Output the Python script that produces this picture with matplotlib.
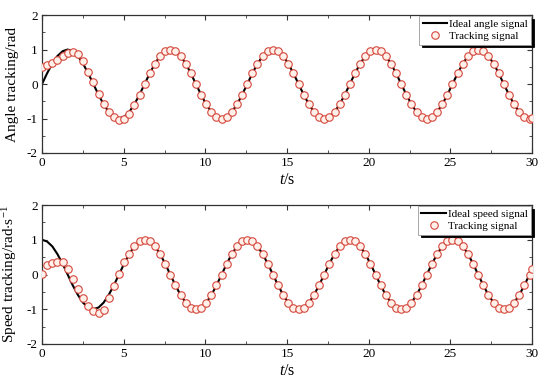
import matplotlib
matplotlib.use("Agg")
import matplotlib.pyplot as plt
from matplotlib.ticker import MultipleLocator

plt.rcParams["font.family"] = ["Liberation Serif", "DejaVu Serif"]
plt.rcParams["mathtext.fontset"] = "custom"
plt.rcParams["mathtext.it"] = "Liberation Serif:italic"
plt.rcParams["mathtext.rm"] = "Liberation Serif"
plt.rcParams["axes.unicode_minus"] = False

# sample times (s), shared by both panels
t = [0.00, 0.31, 0.63, 0.94, 1.26, 1.57, 1.88, 2.20, 2.51, 2.83,
     3.14, 3.46, 3.77, 4.08, 4.40, 4.71, 5.03, 5.34, 5.65, 5.97,
     6.28, 6.60, 6.91, 7.23, 7.54, 7.85, 8.17, 8.48, 8.80, 9.11,
     9.42, 9.74, 10.05, 10.37, 10.68, 11.00, 11.31, 11.62, 11.94, 12.25,
     12.57, 12.88, 13.19, 13.51, 13.82, 14.14, 14.45, 14.77, 15.08, 15.39,
     15.71, 16.02, 16.34, 16.65, 16.96, 17.28, 17.59, 17.91, 18.22, 18.54,
     18.85, 19.16, 19.48, 19.79, 20.11, 20.42, 20.73, 21.05, 21.36, 21.68,
     21.99, 22.31, 22.62, 22.93, 23.25, 23.56, 23.88, 24.19, 24.50, 24.82,
     25.13, 25.45, 25.76, 26.08, 26.39, 26.70, 27.02, 27.33, 27.65, 27.96,
     28.27, 28.59, 28.90, 29.22, 29.53, 29.85, 30.00]

ideal_angle = [0.00, 0.31, 0.59, 0.81, 0.95, 1.00, 0.95, 0.81, 0.59, 0.31,
               0.00, -0.31, -0.59, -0.81, -0.95, -1.00, -0.95, -0.81, -0.59, -0.31,
               0.00, 0.31, 0.59, 0.81, 0.95, 1.00, 0.95, 0.81, 0.59, 0.31,
               0.00, -0.31, -0.59, -0.81, -0.95, -1.00, -0.95, -0.81, -0.59, -0.31,
               0.00, 0.31, 0.59, 0.81, 0.95, 1.00, 0.95, 0.81, 0.59, 0.31,
               0.00, -0.31, -0.59, -0.81, -0.95, -1.00, -0.95, -0.81, -0.59, -0.31,
               0.00, 0.31, 0.59, 0.81, 0.95, 1.00, 0.95, 0.81, 0.59, 0.31,
               0.00, -0.31, -0.59, -0.81, -0.95, -1.00, -0.95, -0.81, -0.59, -0.31,
               0.00, 0.31, 0.59, 0.81, 0.95, 1.00, 0.95, 0.81, 0.59, 0.31,
               0.00, -0.31, -0.59, -0.81, -0.95, -1.00, -0.99]

track_angle = [0.50, 0.55, 0.62, 0.71, 0.81, 0.90, 0.93, 0.86, 0.66, 0.36,
               0.05, -0.28, -0.57, -0.80, -0.97, -1.04, -1.02, -0.88, -0.62, -0.31,
               0.00, 0.31, 0.59, 0.81, 0.95, 1.00, 0.95, 0.81, 0.59, 0.31,
               0.00, -0.31, -0.59, -0.81, -0.95, -1.00, -0.95, -0.81, -0.59, -0.31,
               0.00, 0.31, 0.59, 0.81, 0.95, 1.00, 0.95, 0.81, 0.59, 0.31,
               0.00, -0.31, -0.59, -0.81, -0.95, -1.00, -0.95, -0.81, -0.59, -0.31,
               0.00, 0.31, 0.59, 0.81, 0.95, 1.00, 0.95, 0.81, 0.59, 0.31,
               0.00, -0.31, -0.59, -0.81, -0.95, -1.00, -0.95, -0.81, -0.59, -0.31,
               0.00, 0.31, 0.59, 0.81, 0.95, 1.00, 0.95, 0.81, 0.59, 0.31,
               0.00, -0.31, -0.59, -0.81, -0.95, -1.00, -0.99]

ideal_speed = [1.00, 0.95, 0.81, 0.59, 0.31, 0.00, -0.31, -0.59, -0.81, -0.95,
               -1.00, -0.95, -0.81, -0.59, -0.31, 0.00, 0.31, 0.59, 0.81, 0.95,
               1.00, 0.95, 0.81, 0.59, 0.31, 0.00, -0.31, -0.59, -0.81, -0.95,
               -1.00, -0.95, -0.81, -0.59, -0.31, 0.00, 0.31, 0.59, 0.81, 0.95,
               1.00, 0.95, 0.81, 0.59, 0.31, 0.00, -0.31, -0.59, -0.81, -0.95,
               -1.00, -0.95, -0.81, -0.59, -0.31, 0.00, 0.31, 0.59, 0.81, 0.95,
               1.00, 0.95, 0.81, 0.59, 0.31, 0.00, -0.31, -0.59, -0.81, -0.95,
               -1.00, -0.95, -0.81, -0.59, -0.31, 0.00, 0.31, 0.59, 0.81, 0.95,
               1.00, 0.95, 0.81, 0.59, 0.31, 0.00, -0.31, -0.59, -0.81, -0.95,
               -1.00, -0.95, -0.81, -0.59, -0.31, 0.00, 0.15]

track_speed = [0.02, 0.27, 0.34, 0.37, 0.35, 0.15, -0.12, -0.41, -0.68, -0.90,
               -1.05, -1.12, -1.02, -0.68, -0.32, 0.02, 0.36, 0.60, 0.81, 0.95,
               1.00, 0.95, 0.81, 0.59, 0.31, 0.00, -0.31, -0.59, -0.81, -0.95,
               -1.00, -0.95, -0.81, -0.59, -0.31, 0.00, 0.31, 0.59, 0.81, 0.95,
               1.00, 0.95, 0.81, 0.59, 0.31, 0.00, -0.31, -0.59, -0.81, -0.95,
               -1.00, -0.95, -0.81, -0.59, -0.31, 0.00, 0.31, 0.59, 0.81, 0.95,
               1.00, 0.95, 0.81, 0.59, 0.31, 0.00, -0.31, -0.59, -0.81, -0.95,
               -1.00, -0.95, -0.81, -0.59, -0.31, 0.00, 0.31, 0.59, 0.81, 0.95,
               1.00, 0.95, 0.81, 0.59, 0.31, 0.00, -0.31, -0.59, -0.81, -0.95,
               -1.00, -0.95, -0.81, -0.59, -0.31, 0.00, 0.15]

panels = [
    (ideal_angle, track_angle, "Ideal angle signal", "Angle tracking/rad"),
    (ideal_speed, track_speed, "Ideal speed signal", "Speed tracking/rad$\\cdot$s$^{-1}$"),
]

fig = plt.figure(figsize=(5.5, 3.85), dpi=100)
rects = [[0.0764, 0.6026, 0.8909, 0.3584], [0.0764, 0.1065, 0.8909, 0.3610]]

for rect, (ideal, track, ideal_label, ylabel) in zip(rects, panels):
    ax = fig.add_axes(rect)
    ax.plot(t, ideal, color="black", linewidth=1.5, label=ideal_label, zorder=2)
    ax.plot(t, track, linestyle="none", marker="o", markersize=5.4,
            markerfacecolor="#fff0ea", markeredgecolor="#d4473c",
            markeredgewidth=0.8, label="Tracking signal", zorder=3)
    ax.set_xlim(0, 30)
    ax.set_ylim(-2, 2)
    ax.xaxis.set_major_locator(MultipleLocator(5))
    ax.xaxis.set_minor_locator(MultipleLocator(2.5))
    ax.yaxis.set_major_locator(MultipleLocator(1))
    ax.yaxis.set_minor_locator(MultipleLocator(0.5))
    ax.tick_params(which="both", direction="in", top=True, right=True,
                   labelsize=9.5, color="#333333", pad=3)
    ax.tick_params(which="major", length=3.5, width=0.8)
    ax.tick_params(which="minor", length=2, width=0.6)
    for s in ax.spines.values():
        s.set_color("#333333")
        s.set_linewidth(0.9)
    ax.set_xlabel("$t$/s", fontsize=11.5, labelpad=2)
    ax.set_ylabel(ylabel, fontsize=11, labelpad=2)
    ax.yaxis.set_label_coords(-0.047, 0.5)
    leg = ax.legend(loc="upper right", fontsize=8, frameon=True, fancybox=False,
                    shadow={"color": "black", "alpha": 1.0},
                    borderaxespad=0.1, borderpad=0.3, labelspacing=0.2,
                    handlelength=2.2, handletextpad=0.15)
    leg.get_frame().set_edgecolor("#999999")
    leg.get_frame().set_linewidth(0.6)

fig.savefig("out.png", dpi=100)
